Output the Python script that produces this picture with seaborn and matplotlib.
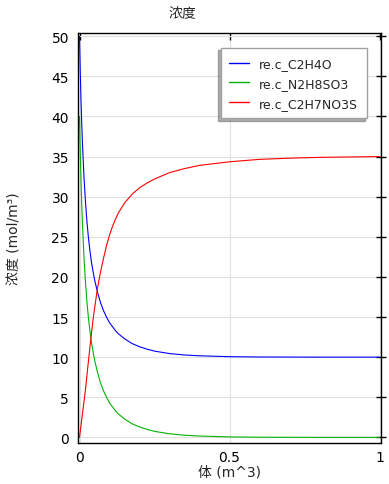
import matplotlib
matplotlib.use('Agg')
import matplotlib.pyplot as plt
import pandas as pd
import seaborn as sns

# Values
volume = [0, 0.0025, 0.005, 0.0075, 0.01, 0.015, 0.02, 0.025, 0.03, 0.035, 0.04, 0.045,
          0.05, 0.06, 0.07, 0.08, 0.09, 0.1, 0.11, 0.12, 0.13, 0.15, 0.175, 0.2,
          0.225, 0.25, 0.3, 0.35, 0.4, 0.5, 0.6, 0.7, 0.8, 0.9, 1.0]
c_C2H4O = [50, 45.6, 42.0, 39.0, 36.5, 32.4, 29.3, 26.8, 24.8, 23.2, 21.8, 20.7,
           19.7, 18.1, 16.8, 15.8, 15.0, 14.3, 13.8, 13.3, 12.9, 12.3, 11.7, 11.3,
           11.0, 10.75, 10.45, 10.27, 10.17, 10.06, 10.02, 10.01, 10.0, 10.0, 10.0]
c_N2H8SO3 = [40, 35.6, 32.0, 29.0, 26.5, 22.4, 19.3, 16.8, 14.8, 13.2, 11.8, 10.7,
             9.7, 8.1, 6.8, 5.8, 5.0, 4.3, 3.8, 3.3, 2.9, 2.3, 1.7, 1.3,
             1.0, 0.75, 0.45, 0.27, 0.17, 0.06, 0.02, 0.01, 0.0, 0.0, 0.0]
c_C2H7NO3S = [0, 0.75, 1.5, 2.25, 3.0, 4.5, 6.0, 7.8, 9.6, 11.3, 13.0, 14.6,
              16.0, 18.6, 20.6, 22.3, 23.9, 25.2, 26.3, 27.2, 28.0, 29.2, 30.3, 31.1,
              31.7, 32.2, 33.0, 33.5, 33.9, 34.35, 34.65, 34.8, 34.9, 34.95, 35.0]
series_names = ['re.c_C2H4O', 're.c_N2H8SO3', 're.c_C2H7NO3S']
series_colors = ['#0000ff', '#00b400', '#ff0000']

title = '浓度'
ylabel = '浓度 (mol/m³)'
xlabel = '体 (m^3)'
yticks = [0, 5, 10, 15, 20, 25, 30, 35, 40, 45, 50]
xticks = [0, 0.5, 1]

df = pd.DataFrame({
    'volume': volume * 3,
    'conc': c_C2H4O + c_N2H8SO3 + c_C2H7NO3S,
    'species': [n for n in series_names for _ in volume],
})

sns.set_theme(style='white')
fonts = ['DejaVu Sans', 'Noto Sans CJK SC']
plt.rcParams['font.family'] = fonts

fig = plt.figure(figsize=(3.89, 4.85), dpi=100)
ax = fig.add_axes([78 / 389, 1 - 444 / 485, 303 / 389, 410 / 485])

sns.lineplot(data=df, x='volume', y='conc', hue='species', palette=series_colors,
             linewidth=0.8, ax=ax, legend=True)

ax.set_xlim(-0.005, 1.005)
ax.set_ylim(-0.7, 50.4)
ax.set_xticks(xticks)
ax.set_xticklabels(['0', '0.5', '1'])
ax.set_yticks(yticks)
ax.tick_params(axis='x', direction='in', length=5, width=1, colors='black', labelsize=10,
               top=True, pad=5)
ax.tick_params(axis='y', direction='inout', length=7, width=1, colors='black', labelsize=10,
               right=True, pad=3)
ax.grid(True, color='#e0e0e0', linewidth=0.8)
for s in ax.spines.values():
    s.set_color('black')
    s.set_linewidth(1)

ax.set_xlabel('')
ax.set_ylabel('')
fig.text(229 / 389, 1 - 473 / 485, xlabel, ha='center', va='center', fontsize=10, family=fonts)
fig.text(15 / 389, 1 - 239 / 485, ylabel, ha='center', va='center', rotation=90,
         fontsize=10, family=fonts)
fig.text(182 / 389, 1 - 14 / 485, title, ha='center', va='center', fontsize=10, family=fonts)

leg = ax.legend(loc='upper right', bbox_to_anchor=(0.954, 0.963), fontsize=9,
                frameon=True, fancybox=False, framealpha=1, edgecolor='#a0a0a0',
                shadow={'ox': -1.5, 'oy': -1.5, 'color': '#606060'},
                handlelength=1.6, handletextpad=0.8, borderpad=0.7, labelspacing=0.55,
                borderaxespad=0)
for line in leg.get_lines():
    line.set_linewidth(1.0)

fig.savefig('out.png', dpi=100)
